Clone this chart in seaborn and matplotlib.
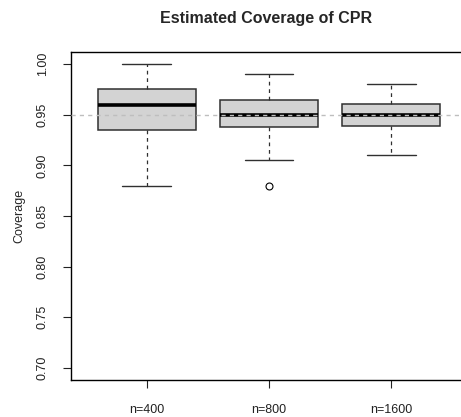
import numpy as np
import pandas as pd
import matplotlib
matplotlib.use("Agg")
import matplotlib.pyplot as plt
import seaborn as sns

groups = ["n=400", "n=800", "n=1600"]
low_whisker = [0.880, 0.905, 0.910]
q1 = [0.935, 0.9375, 0.939]
median = [0.960, 0.950, 0.950]
q3 = [0.975, 0.965, 0.961]
high_whisker = [1.000, 0.990, 0.980]
outliers = [[], [0.880], []]
y_ticks = [0.70, 0.75, 0.80, 0.85, 0.90, 0.95, 1.00]
target = 0.95

# Build a small sample per group reproducing the five-number summaries
rows = []
k = 20
for g, lo, a, m, b, hi, out in zip(groups, low_whisker, q1, median, q3, high_whisker, outliers):
    vals = list(out) + [lo] + [a] * k + [m] * k + [b] * k + [hi]
    rows += [(g, v) for v in vals]
df = pd.DataFrame(rows, columns=["group", "coverage"])

sns.set_style("white")
plt.rcParams["font.family"] = ["Liberation Sans", "DejaVu Sans"]

fig = plt.figure(figsize=(4.61, 4.17), dpi=100)
ax = fig.add_axes([0.154, 0.0887, 0.859, 0.7866])

edge = "#303030"
sns.boxplot(data=df, x="group", y="coverage", order=groups, ax=ax,
            color="#D3D3D3", width=0.8, whis=1.5, saturation=1,
            boxprops=dict(facecolor="#D3D3D3", edgecolor=edge, linewidth=1.1),
            medianprops=dict(color="black", linewidth=2.6),
            whiskerprops=dict(color=edge, linestyle=(0, (3, 3)), linewidth=0.9),
            capprops=dict(color=edge, linewidth=1.0),
            flierprops=dict(marker="o", markersize=5, markerfacecolor="none",
                            markeredgecolor="black", markeredgewidth=0.8))

ax.axhline(target, color="#BEBEBE", linestyle=(0, (3, 3)), linewidth=1.0, zorder=5)

ax.set_xlim(-0.62, 2.62)
ax.set_ylim(0.688, 1.012)
ax.set_yticks(y_ticks)
ax.set_yticklabels([f"{t:.2f}" for t in y_ticks], rotation=90, va="center")
ax.set_xlabel("")
ax.set_ylabel("Coverage", fontsize=9, labelpad=8)
ax.tick_params(axis="both", direction="out", length=6, width=0.8, colors="#222222",
               labelsize=9, left=True, bottom=True)
ax.tick_params(axis="y", pad=10)
ax.tick_params(axis="x", pad=11)
for s in ax.spines.values():
    s.set_visible(True)
    s.set_color("black")
    s.set_linewidth(1.0)

fig.text(0.577, 0.955, "Estimated Coverage of CPR", ha="center", va="center",
         fontsize=11.5, fontweight="bold")

fig.savefig("out.png", dpi=100)
